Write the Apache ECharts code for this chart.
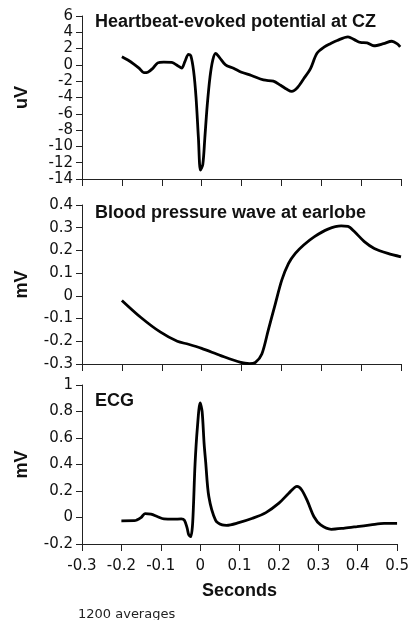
<!DOCTYPE html>
<html>
<head>
<meta charset="utf-8">
<script src="https://cdn.jsdelivr.net/npm/echarts@6/dist/echarts.min.js"></script>
<style>
html,body{margin:0;padding:0;background:#fff;}
#c{width:412px;height:620px;}
</style>
</head>
<body>
<div id="c"></div>
<script>
// Time axis ticks (seconds)
var timeMin = -0.3, timeMax = 0.5, timeStep = 0.1;

// Panel 1: Heartbeat-evoked potential at CZ (uV)
var hepTime = [-0.2,-0.185,-0.17,-0.157,-0.145,-0.135,-0.122,-0.11,-0.095,-0.075,-0.06,-0.05,-0.042,-0.033,-0.027,-0.02,-0.014,-0.008,-0.003,0.003,0.008,0.014,0.021,0.028,0.035,0.045,0.06,0.08,0.1,0.125,0.155,0.18,0.198,0.214,0.226,0.24,0.256,0.273,0.289,0.308,0.323,0.34,0.367,0.383,0.398,0.415,0.432,0.456,0.477,0.49,0.498];
var hepValues = [1.0,0.6,0.1,-0.4,-0.95,-0.9,-0.4,0.25,0.35,0.3,-0.1,-0.4,0.4,1.3,1.1,-0.8,-4.0,-9.0,-12.9,-12.2,-9.0,-5.0,-1.5,0.6,1.4,0.9,0.0,-0.4,-0.9,-1.3,-1.85,-2.0,-2.5,-3.0,-3.25,-2.8,-1.7,-0.46,1.4,2.2,2.6,3.0,3.45,3.1,2.75,2.7,2.35,2.6,2.9,2.6,2.2];

// Panel 2: Blood pressure wave at earlobe (mV)
var bpTime = [-0.2,-0.153,-0.103,-0.061,-0.033,0,0.048,0.098,0.12,0.135,0.151,0.167,0.185,0.201,0.218,0.235,0.256,0.283,0.317,0.35,0.367,0.383,0.408,0.433,0.467,0.5];
var bpValues = [-0.02,-0.094,-0.16,-0.2,-0.213,-0.231,-0.263,-0.293,-0.298,-0.293,-0.256,-0.152,-0.034,0.069,0.143,0.187,0.224,0.261,0.294,0.308,0.306,0.283,0.239,0.209,0.187,0.172];

// Panel 3: ECG (mV)
var ecgTime = [-0.2,-0.167,-0.15,-0.14,-0.125,-0.108,-0.092,-0.067,-0.048,-0.04,-0.033,-0.029,-0.024,-0.019,-0.013,-0.007,0,0.005,0.01,0.014,0.022,0.039,0.056,0.067,0.098,0.133,0.167,0.2,0.225,0.246,0.258,0.273,0.289,0.306,0.333,0.367,0.398,0.433,0.467,0.5];
var ecgValues = [-0.025,-0.024,0.0,0.03,0.025,0.006,-0.011,-0.013,-0.01,-0.02,-0.08,-0.13,-0.145,-0.04,0.4,0.68,0.865,0.8,0.56,0.42,0.158,-0.02,-0.056,-0.059,-0.039,-0.006,0.037,0.108,0.183,0.235,0.208,0.12,0.006,-0.056,-0.089,-0.08,-0.069,-0.056,-0.044,-0.044];

// Panel titles and axis names
var panelTitles = ['Heartbeat-evoked potential at CZ','Blood pressure wave at earlobe','ECG'];
var unitNames = ['uV','mV','mV'];
var yMins = [-14,-0.3,-0.2], yMaxs = [6,0.4,1], ySteps = [2,0.1,0.2];
var xAxisName = 'Seconds';
var footNote = '1200 averages';

function zip(a,b){return a.map(function(t,i){return [t,b[i]];});}
var seriesData = [zip(hepTime,hepValues), zip(bpTime,bpValues), zip(ecgTime,ecgValues)];

var grids = [
  {left:82, right:11, top:16, height:163},
  {left:82, right:11, top:205, height:159},
  {left:82, right:11, top:385, height:159}
];
var axisColor = '#222';
var tickFont = 'DejaVu Sans';
var boldFont = 'Liberation Sans';

var xAxes = grids.map(function(g,i){
  var last = i === 2;
  return {
    type:'value', gridIndex:i, min:timeMin, max:timeMax, interval:timeStep,
    axisLine:{show:true, onZero:false, lineStyle:{color:axisColor,width:1}},
    axisTick:{show:true, inside:false, length:7, lineStyle:{color:axisColor}},
    splitLine:{show:false},
    axisLabel:{show:last, margin:15, fontSize:15, color:'#111', fontFamily:tickFont},
    name: last ? xAxisName : '',
    nameLocation:'middle', nameGap:38,
    nameTextStyle:{fontSize:18, fontWeight:'bold', color:'#111', fontFamily:boldFont}
  };
});
var yAxes = grids.map(function(g,i){
  return {
    type:'value', gridIndex:i, min:yMins[i], max:yMaxs[i], interval:ySteps[i],
    axisLine:{show:true, onZero:false, lineStyle:{color:axisColor,width:1}},
    axisTick:{show:true, inside:false, length:6, lineStyle:{color:axisColor}},
    splitLine:{show:false},
    axisLabel:{margin:9, fontSize:15, color:'#111', fontFamily:tickFont},
    name: unitNames[i], nameLocation:'middle', nameRotate:90, nameGap:51,
    nameTextStyle:{fontSize:18, fontWeight:'bold', color:'#111', fontFamily:boldFont}
  };
});
var titleTops = [22,213,401];
var graphics = panelTitles.map(function(t,i){
  return {type:'text', left:95, top:titleTops[i]-9,
    style:{text:t, fontSize:18, fontWeight:'bold', fill:'#111', fontFamily:boldFont}};
});
graphics.push({type:'text', left:78, top:608,
  style:{text:footNote, fontSize:13, fill:'#222', fontFamily:tickFont}});

var chart = echarts.init(document.getElementById('c'), null, {renderer:'canvas'});
chart.setOption({
  animation:false,
  backgroundColor:'#fff',
  grid:grids,
  xAxis:xAxes,
  yAxis:yAxes,
  graphic:graphics,
  series:seriesData.map(function(d,i){
    return {type:'line', xAxisIndex:i, yAxisIndex:i, data:d, showSymbol:false, smooth:0.3,
      lineStyle:{color:'#000', width:2.8}};
  })
});
</script>
</body>
</html>
